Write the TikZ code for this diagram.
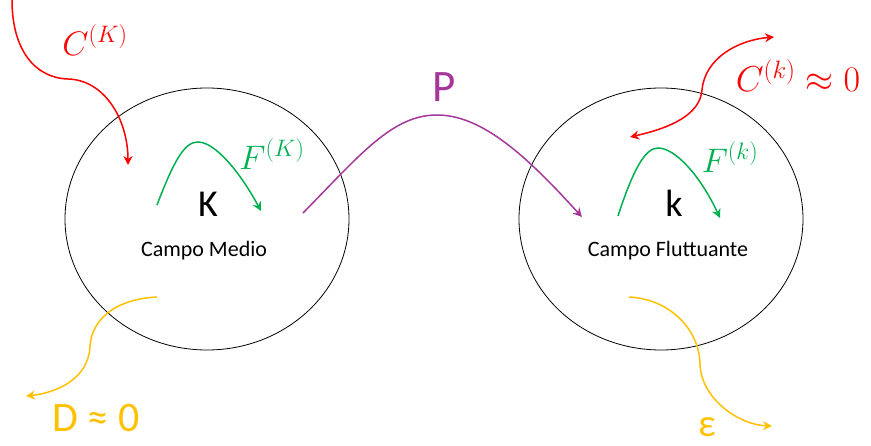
\RequirePackage{fix-cm}
\documentclass[tikz,border=0pt]{standalone}
\usepackage{fontspec}
\setmainfont{Carlito}
\usetikzlibrary{shapes.geometric, arrows.meta, positioning}
\definecolor{cRed}{RGB}{255,0,0}
\definecolor{cGreen}{RGB}{0,176,80}
\definecolor{cPurple}{RGB}{165,55,155}
\definecolor{cYellow}{RGB}{255,192,0}
\tikzset{
	campo/.style  ={ellipse, draw=black, line width=0.8pt, minimum width=284pt, minimum height=262pt, inner sep=0pt},
	flux/.style   ={-{Stealth[length=9pt, width=9pt, inset=3pt]}, line width=1.5pt},
	fluxboth/.style={{Stealth[length=9pt, width=9pt, inset=3pt]}-{Stealth[length=9pt, width=9pt, inset=3pt]}, line width=1.5pt},
	% text labels
	lbl/.style    ={inner sep=0pt, anchor=base},
	mlbl/.style   ={inner sep=0pt, font=\fontsize{34}{40}\selectfont},
}

\begin{document}
\begin{tikzpicture}[x=1pt, y=-1pt]
	\useasboundingbox (0,0) rectangle (871,446);
	% the two fields
	\node[campo] (med) at (207,219) {};
	\node[campo] (flu) at (661,219) {};
	\node[lbl, font=\fontsize{38}{44}\selectfont] (kM) at (208,217) {K};
	\node[lbl, font=\fontsize{22}{26}\selectfont] (tM) at (204,257) {Campo Medio};
	\node[lbl, font=\fontsize{38}{44}\selectfont] (kF) at (674,217) {k};
	\node[lbl, font=\fontsize{22}{26}\selectfont] (tF) at (668,257) {Campo Fluttuante};
	% end points of the fluxes
	\coordinate (cKa) at (12,0);    \coordinate (cKb) at (128,165);
	\coordinate (fKa) at (157,205); \coordinate (fKb) at (261,211);
	\coordinate (pa) at (303,213);  \coordinate (pb) at (582,217);
	\coordinate (fka) at (618,216); \coordinate (fkb) at (720,218);
	\coordinate (cka) at (630,137); \coordinate (ckb) at (774,37);
	\coordinate (da) at (157,297);  \coordinate (db) at (26,396);
	\coordinate (ea) at (629,297);  \coordinate (eb) at (772,426);
	% fluxes
	\draw[flux, cRed] (cKa) .. controls (12,50) and (35,78) .. (68,79) .. controls (105,80) and (128,120) .. (cKb);
	\draw[flux, cGreen] (fKa) .. controls (175,158) and (185,142) .. (198,142) .. controls (215,142) and (240,172) .. (fKb);
	\draw[flux, cPurple] (pa) .. controls (360,155) and (392,115) .. (437,115) .. controls (484,115) and (530,160) .. (pb);
	\draw[flux, cGreen] (fka) .. controls (633,170) and (645,148) .. (658,148) .. controls (675,148) and (700,175) .. (fkb);
	\draw[fluxboth, cRed] (cka) .. controls (670,128) and (700,115) .. (702,90) .. controls (705,58) and (738,40) .. (ckb);
	\draw[flux, cYellow] (da) .. controls (115,299) and (91,320) .. (90,347) .. controls (88,380) and (55,393) .. (db);
	\draw[flux, cYellow] (ea) .. controls (670,299) and (700,330) .. (700,365) .. controls (702,400) and (740,425) .. (eb);
	% flux labels
	\node[mlbl, text=cRed] (lcK) at (95,40) {$C^{(K)}$};
	\node[mlbl, text=cGreen] (lfK) at (272,154) {$F^{(K)}$};
	\node[mlbl, text=cGreen] (lfk) at (730,157) {$F^{(k)}$};
	\node[mlbl, text=cRed, font=\fontsize{36}{42}\selectfont] (lck) at (798,76) {$C^{(k)}\approx 0$};
	\node[lbl, text=cPurple, font=\fontsize{45}{50}\selectfont] (lp) at (444,102) {P};
	\node[lbl, text=cYellow, font=\fontsize{42}{48}\selectfont] (ld) at (96,432) {D ≈ 0};
	\node[lbl, text=cYellow, text depth=0pt, font=\fontsize{39}{44}\selectfont] (le) at (707,437) {ε};
\end{tikzpicture}
\end{document}
